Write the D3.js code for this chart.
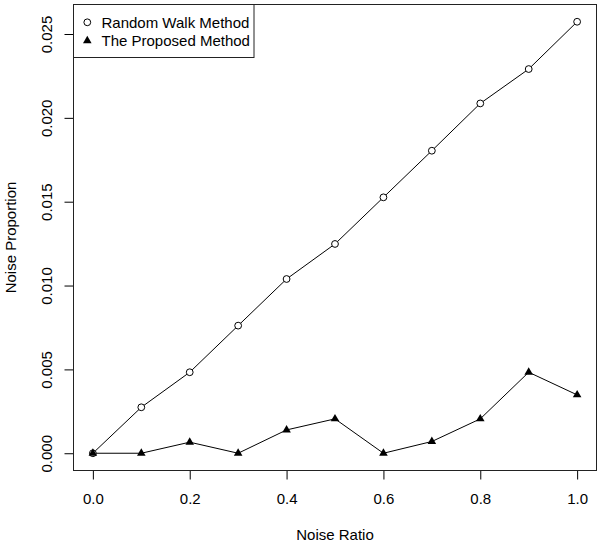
<!DOCTYPE html>
<html>
<head>
<meta charset="utf-8">
<script src="https://cdn.jsdelivr.net/npm/d3@7"></script>
<style>
  body { margin: 0; background: #fff; }
  svg { display: block; font-family: "Liberation Sans", Arial, Helvetica, sans-serif; }
  .tick text { font-size: 15px; fill: #000; }
</style>
</head>
<body>
<svg width="600" height="545"></svg>
<script>

// data
let noiseRatio = [0, 0.1, 0.2, 0.3, 0.4, 0.5, 0.6, 0.7, 0.8, 0.9, 1.0];
let randomWalk = [0, 0.00274, 0.00483, 0.00761, 0.01039, 0.01248, 0.01526, 0.01804, 0.02086, 0.02291, 0.02573];
let proposed   = [0, 0, 0.00066, 0, 0.00139, 0.00205, 0, 0.0007, 0.00205, 0.00483, 0.00348];

let xTicks = [0, 0.2, 0.4, 0.6, 0.8, 1.0];
let yTicks = [0, 0.005, 0.010, 0.015, 0.020, 0.025];
let seriesNames = ['Random Walk Method', 'The Proposed Method'];

let svg = d3.select('svg');
let box = { left: 73.5, right: 596.5, top: 4.5, bottom: 470.5 };

// R style 4% padding on both scales
let xMax = d3.max(noiseRatio), xMin = d3.min(noiseRatio);
let yMax = d3.max(randomWalk.concat(proposed)), yMin = d3.min(randomWalk.concat(proposed));
let xPad = (xMax - xMin) * 0.04, yPad = (yMax - yMin) * 0.04;

let x = d3.scaleLinear()
    .domain([xMin - xPad, xMax + xPad])
    .range([box.left, box.right]);

let y = d3.scaleLinear()
    .domain([yMin - yPad, yMax + yPad])
    .range([box.bottom, box.top]);

let line = d3.line()
    .x((d, i) => x(noiseRatio[i]))
    .y(d => y(d));

// x axis
let gx = svg.append('g')
    .attr('transform', 'translate(0,' + box.bottom + ')')
    .call(d3.axisBottom(x)
        .tickValues(xTicks)
        .tickFormat(d3.format('.1f'))
        .tickSize(9)
        .tickPadding(13.5));
gx.select('.domain').remove();
gx.selectAll('line').attr('stroke', '#000');
gx.selectAll('text').attr('font-family', null);

// y axis, labels rotated like R
let gy = svg.append('g')
    .attr('transform', 'translate(' + box.left + ',0)')
    .call(d3.axisLeft(y)
        .tickValues(yTicks)
        .tickFormat(d3.format('.3f'))
        .tickSize(9));
gy.select('.domain').remove();
gy.selectAll('line').attr('stroke', '#000');
gy.selectAll('text')
    .attr('font-family', null)
    .attr('x', 0)
    .attr('dy', '0.36em')
    .attr('text-anchor', 'middle')
    .attr('transform', 'translate(-27.3,0) rotate(-90)');

// plot box
svg.append('rect')
    .attr('x', box.left)
    .attr('y', box.top)
    .attr('width', box.right - box.left)
    .attr('height', box.bottom - box.top)
    .attr('fill', 'none')
    .attr('stroke', '#222')
    .attr('stroke-width', 1);

// lines
svg.append('path')
    .datum(randomWalk)
    .attr('d', line)
    .attr('fill', 'none')
    .attr('stroke', '#000')
    .attr('stroke-width', 1);

svg.append('path')
    .datum(proposed)
    .attr('d', line)
    .attr('fill', 'none')
    .attr('stroke', '#000')
    .attr('stroke-width', 1);

// markers
svg.append('g').selectAll('circle')
    .data(randomWalk)
    .enter().append('circle')
    .attr('cx', (d, i) => x(noiseRatio[i]))
    .attr('cy', d => y(d))
    .attr('r', 3.4)
    .attr('fill', '#fff')
    .attr('stroke', '#000')
    .attr('stroke-width', 1);

let tri = d3.symbol().type(d3.symbolTriangle).size(32);

svg.append('g').selectAll('path')
    .data(proposed)
    .enter().append('path')
    .attr('d', tri)
    .attr('transform', (d, i) => 'translate(' + x(noiseRatio[i]) + ',' + y(d) + ')')
    .attr('fill', '#000');

// axis titles
svg.append('text')
    .attr('x', (box.left + box.right) / 2)
    .attr('y', 540)
    .attr('text-anchor', 'middle')
    .style('font-size', '15px')
    .text('Noise Ratio');

svg.append('text')
    .attr('transform', 'translate(16,' + (box.top + box.bottom) / 2 + ') rotate(-90)')
    .attr('text-anchor', 'middle')
    .style('font-size', '15px')
    .text('Noise Proportion');

// legend
let legend = svg.append('g');
legend.append('rect')
    .attr('x', box.left)
    .attr('y', box.top)
    .attr('width', 254 - box.left)
    .attr('height', 57.5 - box.top)
    .attr('fill', '#fff')
    .attr('stroke', '#222');

let legendY = [22.3, 40.7];

legend.append('circle')
    .attr('cx', 87.3)
    .attr('cy', legendY[0])
    .attr('r', 3.4)
    .attr('fill', '#fff')
    .attr('stroke', '#000');

legend.append('path')
    .attr('d', tri)
    .attr('transform', 'translate(87.3,' + legendY[1] + ')')
    .attr('fill', '#000');

legend.selectAll('text.lab')
    .data(seriesNames)
    .enter().append('text')
    .attr('class', 'lab')
    .attr('x', 101.5)
    .attr('y', (d, i) => legendY[i])
    .attr('dy', '0.38em')
    .style('font-size', '15px')
    .text(d => d);

</script>
</body>
</html>
